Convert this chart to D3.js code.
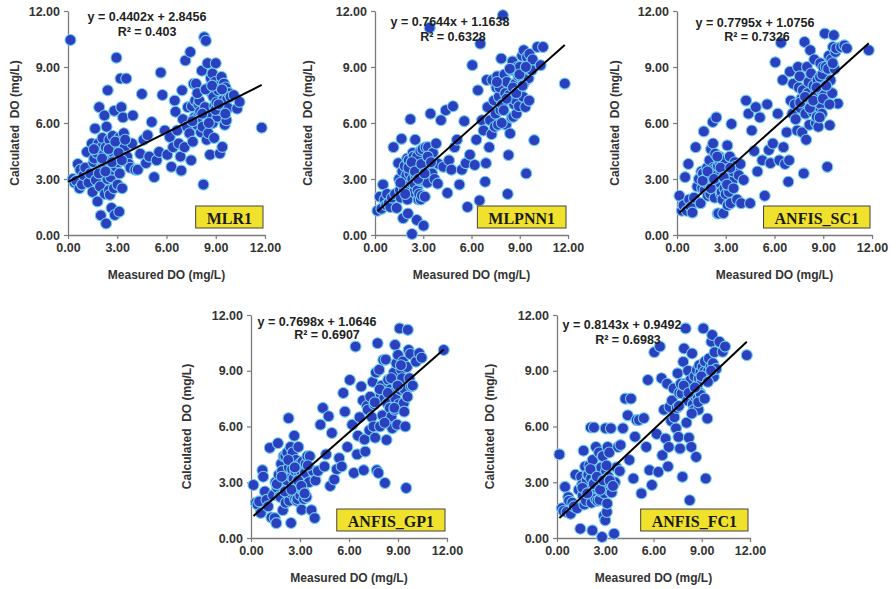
<!DOCTYPE html>
<html>
<head>
<meta charset="utf-8">
<script src="https://cdn.jsdelivr.net/npm/d3@7"></script>
<style>
  body { margin: 0; background: #fff; }
  svg text { font-family: "Liberation Sans", Arial, sans-serif; }
</style>
</head>
<body>
<div id="chart"></div>
<script>
// measured DO, shared by all five models (mg/L)
var measured = [
  0.15, 0.30, 0.40, 0.50, 0.60, 0.70, 0.75, 0.85, 0.95, 1.05,
  1.15, 1.25, 1.35, 1.45, 1.50, 1.55, 1.60, 1.65, 1.70, 1.75,
  1.80, 1.85, 1.90, 1.95, 2.00, 2.02, 2.05, 2.10, 2.12, 2.15,
  2.20, 2.22, 2.25, 2.30, 2.32, 2.35, 2.40, 2.42, 2.45, 2.50,
  2.52, 2.55, 2.60, 2.62, 2.65, 2.70, 2.72, 2.75, 2.80, 2.82,
  2.85, 2.90, 2.92, 2.95, 3.00, 3.02, 3.05, 3.10, 3.12, 3.15,
  3.20, 3.25, 3.30, 3.35, 3.40, 3.45, 3.55, 3.60, 3.70, 3.80,
  3.90, 3.95, 4.10, 4.25, 4.40, 4.50, 4.60, 4.75, 4.85, 4.95,
  5.10, 5.25, 5.40, 5.55, 5.65, 5.75, 5.90, 6.05, 6.20, 6.30,
  6.40, 6.50, 6.55, 6.65, 6.75, 6.85, 6.90, 6.95, 7.00, 7.10,
  7.15, 7.25, 7.30, 7.40, 7.45, 7.50, 7.55, 7.60, 7.65, 7.70,
  7.75, 7.80, 7.85, 7.90, 7.95, 8.00, 8.05, 8.10, 8.15, 8.20,
  8.25, 8.30, 8.35, 8.40, 8.45, 8.50, 8.55, 8.60, 8.65, 8.70,
  8.72, 8.75, 8.80, 8.82, 8.85, 8.90, 8.92, 8.95, 9.00, 9.05,
  9.10, 9.15, 9.20, 9.25, 9.30, 9.35, 9.40, 9.45, 9.50, 9.55,
  9.60, 9.65, 9.70, 9.75, 9.80, 9.90, 10.10, 10.30, 10.45, 11.80,
  1.58, 1.88, 2.08, 2.28, 2.48, 2.68, 2.88, 3.08, 3.28, 3.48,
  7.58, 7.88, 8.18, 8.38, 8.58, 8.78, 8.98, 9.18, 9.38, 9.58
];

// calculated DO per model, same order as measured
var mlr1 = [
  10.45, 3.0, 2.8, 2.9, 3.8, 2.5, 3.5, 2.7, 3.2, 3.6,
  4.45, 2.8, 3.3, 4.9, 2.3, 3.9, 4.1, 5.7, 2.95, 4.4,
  1.8, 4.9, 6.85, 2.6, 1.05, 3.6, 4.7, 5.2, 3.65, 4.3,
  3.9, 6.4, 2.2, 4.7, 0.62, 5.8, 3.0, 7.75, 4.0, 2.4,
  5.1, 2.15, 3.1, 4.5, 1.45, 3.5, 5.3, 4.4, 2.5, 6.65,
  1.07, 4.0, 3.65, 9.5, 4.7, 2.7, 3.9, 5.2, 1.25, 3.3,
  8.38, 6.85, 2.5, 6.3, 5.45, 4.7, 8.38, 4.2, 3.8, 3.6,
  4.9, 6.4, 3.5, 3.5, 4.35, 7.55, 5.1, 3.85, 5.35, 4.2,
  6.05, 3.1, 4.0, 4.45, 8.7, 7.5, 5.6, 4.3, 5.25, 3.65,
  4.7, 7.2, 6.6, 5.6, 4.9, 4.2, 3.45, 7.75, 6.2, 4.7,
  9.35, 5.8, 6.85, 5.45, 9.8, 4.0, 6.9, 5.0, 8.1, 6.3,
  7.2, 8.1, 5.9, 6.3, 7.0, 7.2, 6.6, 5.5, 8.8, 5.8,
  2.7, 10.6, 6.85, 10.4, 5.1, 9.2, 5.45, 7.9, 4.3, 8.4,
  6.33, 7.6, 8.65, 6.0, 7.4, 5.2, 6.9, 8.2, 9.2, 7.1,
  6.33, 7.75, 8.0, 4.37, 6.68, 8.47, 4.72, 7.22, 8.11, 5.9,
  7.9, 6.15, 7.3, 6.8, 7.6, 7.4, 7.49, 6.77, 7.13, 5.75,
  4.6, 3.3, 4.1, 3.4, 4.6, 3.9, 5.0, 4.4, 4.0, 5.1,
  6.1, 7.6, 6.5, 7.8, 6.0, 8.0, 6.7, 7.0, 7.8, 6.5
];
var mlpnn1 = [
  1.3, 2.05, 1.4, 2.7, 1.9, 1.6, 2.2, 1.7, 1.5, 2.0,
  4.7, 2.2, 1.45, 3.85, 3.0, 2.4, 2.0, 5.15, 3.4, 0.9,
  2.4, 3.7, 2.9, 3.2, 4.1, 1.9, 1.15, 4.0, 2.6, 3.3,
  6.2, 3.6, 2.8, 0.05, 3.0, 4.4, 4.2, 2.3, 2.75, 5.1,
  3.2, 3.9, 0.8, 4.2, 2.4, 1.9, 3.5, 2.2, 2.9, 4.5,
  1.9, 3.65, 2.1, 4.6, 2.9, 0.5, 3.4, 2.05, 2.85, 4.7,
  3.0, 2.8, 4.7, 3.6, 11.1, 6.5, 3.3, 4.4, 3.0, 4.9,
  2.75, 3.8, 6.15, 3.65, 6.68, 2.25, 4.0, 3.5, 6.9, 4.7,
  5.1, 2.7, 3.5, 6.1, 3.85, 1.5, 4.3, 9.1, 3.75, 5.1,
  7.75, 1.85, 10.25, 6.15, 5.6, 2.85, 3.85, 8.3, 6.85, 4.7,
  6.15, 5.4, 8.3, 7.2, 5.8, 6.5, 7.9, 8.5, 5.9, 7.4,
  7.9, 6.7, 9.45, 7.0, 11.77, 6.68, 8.6, 7.6, 5.9, 8.2,
  2.2, 4.28, 7.5, 5.44, 8.83, 6.3, 9.3, 6.33, 7.0, 8.1,
  8.1, 7.22, 6.5, 8.9, 9.0, 7.7, 8.5, 6.9, 9.0, 7.9,
  8.47, 9.6, 7.4, 9.9, 8.2, 6.86, 3.3, 9.54, 8.83, 8.4,
  9.7, 8.83, 9.2, 8.83, 9.4, 5.08, 10.07, 9.09, 10.07, 8.11,
  2.8, 2.2, 3.6, 3.9, 3.4, 3.0, 3.8, 3.3, 4.2, 3.9,
  8.2, 6.0, 7.3, 8.9, 7.9, 7.6, 8.6, 8.0, 9.0, 7.2
];
var anfisSc1 = [
  2.1, 1.3, 1.6, 3.1, 1.3, 3.8, 1.9, 1.5, 1.2, 2.0,
  4.7, 2.6, 3.0, 1.7, 3.4, 2.5, 3.3, 5.55, 2.4, 3.0,
  2.8, 3.6, 2.1, 2.85, 4.0, 3.3, 2.2, 4.6, 3.1, 2.6,
  6.05, 4.9, 3.6, 3.5, 2.0, 4.35, 2.6, 6.3, 3.2, 1.15,
  3.7, 1.15, 4.2, 2.8, 3.9, 2.2, 3.3, 2.3, 1.9, 4.0,
  1.16, 3.0, 2.5, 4.0, 2.2, 3.5, 2.8, 4.8, 1.6, 3.3,
  2.3, 4.2, 1.7, 5.95, 2.9, 3.4, 3.9, 3.7, 1.9, 3.2,
  3.8, 1.7, 2.95, 7.2, 6.5, 1.7, 5.6, 4.5, 6.85, 3.4,
  6.3, 4.0, 2.1, 7.0, 4.55, 3.85, 4.9, 9.25, 6.5, 4.0,
  10.3, 8.3, 4.7, 3.8, 5.5, 2.85, 4.0, 8.75, 7.2, 6.5,
  8.1, 7.0, 6.2, 5.6, 9.0, 7.9, 8.5, 6.8, 7.3, 5.5,
  7.76, 3.3, 10.34, 6.5, 5.1, 9.0, 7.6, 8.2, 5.9, 9.9,
  8.65, 7.2, 6.6, 8.0, 9.4, 7.5, 6.0, 6.33, 8.3, 5.8,
  7.93, 6.86, 8.47, 9.2, 7.0, 7.7, 6.5, 8.6, 9.0, 7.5,
  10.79, 9.0, 8.0, 3.65, 8.9, 9.6, 5.88, 8.29, 9.4, 7.6,
  10.07, 10.7, 8.9, 9.8, 10.0, 7.04, 10.07, 10.16, 10.0, 9.9,
  2.9, 3.4, 2.5, 3.0, 4.2, 3.6, 3.1, 2.7, 3.6, 2.5,
  7.1, 7.4, 6.8, 7.2, 7.9, 6.3, 7.3, 8.0, 7.0, 9.2
];
var anfisGp1 = [
  2.85, 1.9, 1.8, 1.97, 1.35, 3.65, 3.3, 2.5, 2.05, 1.7,
  4.85, 1.1, 2.3, 1.07, 3.0, 0.8, 2.7, 5.1, 3.4, 2.25,
  2.2, 4.0, 3.6, 1.5, 4.4, 2.9, 3.1, 4.4, 1.9, 2.6,
  3.1, 4.6, 2.4, 6.45, 3.8, 2.0, 2.45, 4.9, 0.81, 3.3,
  3.7, 4.6, 3.2, 2.8, 5.5, 2.1, 3.6, 4.2, 2.0, 2.6,
  2.1, 4.9, 3.0, 3.5, 4.0, 2.3, 3.6, 1.52, 2.6, 4.1,
  2.6, 2.1, 3.5, 4.0, 2.2, 4.4, 3.0, 4.4, 1.5, 3.6,
  1.07, 3.1, 3.6, 6.1, 7.0, 3.85, 4.5, 6.55, 2.8, 5.65,
  3.15, 3.7, 4.3, 3.85, 7.8, 6.8, 4.9, 8.5, 6.1, 3.5,
  10.3, 4.5, 5.5, 6.5, 8.15, 7.4, 3.65, 5.3, 4.65, 7.1,
  6.9, 5.8, 7.6, 6.5, 8.4, 6.0, 7.2, 5.4, 8.9, 3.65,
  10.48, 3.5, 9.05, 6.0, 7.7, 8.2, 6.6, 9.58, 7.5, 2.96,
  9.6, 5.28, 7.25, 8.51, 6.3, 7.0, 8.0, 6.54, 5.9, 7.8,
  7.8, 8.9, 6.9, 10.39, 7.5, 9.4, 8.3, 6.1, 9.85, 7.2,
  11.28, 7.97, 9.05, 8.6, 9.5, 7.25, 8.0, 6.0, 2.69, 9.2,
  11.2, 10.12, 8.6, 9.9, 8.15, 8.2, 9.49, 9.94, 9.7, 10.12,
  2.9, 3.3, 2.5, 4.2, 2.6, 3.8, 3.1, 2.8, 2.4, 3.9,
  7.3, 8.0, 6.2, 7.8, 8.6, 7.0, 8.2, 9.3, 6.8, 7.6
];
var anfisFc1 = [
  4.5, 1.6, 1.45, 2.75, 1.4, 2.2, 2.0, 1.3, 1.9, 1.7,
  3.4, 1.6, 2.6, 0.5, 3.3, 2.85, 2.3, 4.7, 1.8, 3.85,
  2.0, 3.1, 3.4, 3.4, 2.6, 3.9, 2.4, 5.95, 3.2, 1.9,
  0.41, 4.2, 2.4, 5.95, 3.0, 3.6, 2.1, 4.9, 2.7, 3.65,
  2.0, 3.0, 2.9, 4.6, 2.05, 3.3, 2.5, 3.8, 0.05, 4.4,
  4.4, 3.0, 1.2, 2.4, 0.95, 5.9, 3.6, 1.4, 1.85, 4.9,
  3.3, 4.6, 2.5, 5.9, 2.45, 3.0, 0.23, 3.0, 3.8, 4.9,
  3.6, 5.0, 5.9, 7.5, 6.6, 4.2, 7.5, 3.2, 5.45, 6.35,
  6.35, 2.4, 6.45, 4.9, 8.5, 3.65, 2.85, 10.0, 5.6, 3.55,
  10.3, 8.6, 4.45, 6.9, 5.35, 8.3, 3.85, 4.9, 7.05, 6.3,
  7.4, 8.05, 6.5, 5.9, 7.0, 8.86, 5.44, 7.8, 4.81, 8.3,
  7.78, 3.29, 9.48, 10.2, 8.3, 11.28, 6.2, 7.4, 9.0, 5.4,
  2.03, 8.5, 4.9, 9.93, 7.2, 6.88, 8.7, 7.6, 4.36, 9.04,
  8.14, 7.6, 6.9, 8.6, 9.3, 7.8, 8.9, 7.7, 8.5, 9.2,
  11.28, 8.95, 9.5, 3.2, 8.6, 6.43, 9.0, 9.66, 8.8, 9.2,
  10.56, 10.92, 9.4, 8.68, 10.0, 9.1, 10.56, 10.02, 10.3, 9.84,
  2.7, 2.4, 3.7, 2.9, 3.3, 2.6, 3.1, 3.9, 3.1, 2.8,
  7.1, 8.2, 7.8, 6.7, 8.1, 7.3, 8.7, 7.5, 8.4, 9.0
];

var modelNames = ["MLR1", "MLPNN1", "ANFIS_SC1", "ANFIS_GP1", "ANFIS_FC1"];
var modelValues = [mlr1, mlpnn1, anfisSc1, anfisGp1, anfisFc1];
// trend line coefficients as printed on the chart
var slopes = [0.4402, 0.7644, 0.7795, 0.7698, 0.8143];
var intercepts = [2.8456, 1.1638, 1.0756, 1.0646, 0.9492];
var equations = ["y = 0.4402x + 2.8456", "y = 0.7644x + 1.1638", "y = 0.7795x + 1.0756",
                 "y = 0.7698x + 1.0646", "y = 0.8143x + 0.9492"];
var rSquared = ["R² = 0.403", "R² = 0.6328", "R² = 0.7326", "R² = 0.6907", "R² = 0.6983"];
var tickValues = [0, 3, 6, 9, 12];

// panel layout in page pixels (plot frame), and text offsets
var layout = [
  { x0: 68,  x1: 265, top: 11,  bottom: 235, eqX: 147, eqY: 17,  r2X: 147, r2Y: 32,  titleX: 15 },
  { x0: 375, x1: 568, top: 11,  bottom: 235, eqX: 450, eqY: 22,  r2X: 453, r2Y: 37,  titleX: 308 },
  { x0: 677, x1: 872, top: 11,  bottom: 235, eqX: 755, eqY: 23,  r2X: 757, r2Y: 37,  titleX: 615 },
  { x0: 251, x1: 447, top: 315, bottom: 538, eqX: 317, eqY: 322, r2X: 327, r2Y: 335, titleX: 187 },
  { x0: 557, x1: 750, top: 315, bottom: 538, eqX: 622, eqY: 325, r2X: 628, r2Y: 340, titleX: 490 }
];

var width = 896, height = 589;
var svg = d3.select("#chart").append("svg")
    .attr("width", width)
    .attr("height", height);

var fmt = d3.format(".2f");
var xExtent = d3.extent(measured);

modelNames.forEach(function(name, i) {
    var L = layout[i];
    var x = d3.scaleLinear().domain([0, 12]).range([L.x0, L.x1]);
    var y = d3.scaleLinear().domain([0, 12]).range([L.bottom, L.top]);
    var g = svg.append("g").attr("class", "panel");

    // axes
    var yAxis = g.append("g")
        .attr("transform", "translate(" + L.x0 + ",0)")
        .call(d3.axisLeft(y).tickValues(tickValues).tickFormat(fmt).tickSizeInner(4).tickSizeOuter(0));
    var xAxis = g.append("g")
        .attr("transform", "translate(0," + L.bottom + ")")
        .call(d3.axisBottom(x).tickValues(tickValues).tickFormat(fmt).tickSizeInner(4).tickSizeOuter(0));
    [xAxis, yAxis].forEach(function(a) {
        a.select(".domain").attr("stroke", "#7a7a7a").attr("stroke-width", 1.3);
        a.selectAll(".tick line").attr("stroke", "#7a7a7a").attr("stroke-width", 1.2);
        a.selectAll(".tick text")
            .attr("fill", "#333")
            .style("font-size", "12.5px")
            .style("font-weight", "bold")
            .style("font-family", "'Liberation Sans', Arial, sans-serif");
    });
    yAxis.selectAll(".tick text").attr("x", -8);
    xAxis.selectAll(".tick text").attr("y", 8);

    // points
    var pts = d3.zip(measured, modelValues[i]);
    g.append("g").selectAll("circle")
        .data(pts)
        .join("circle")
        .attr("cx", function(d) { return x(d[0]); })
        .attr("cy", function(d) { return y(d[1]); })
        .attr("r", 5.5)
        .attr("fill", "#2c3fbe")
        .attr("stroke", "#6fcdef")
        .attr("stroke-width", 1.1);

    // trend line
    var line = d3.line()
        .x(function(d) { return x(d); })
        .y(function(d) { return y(slopes[i] * d + intercepts[i]); });
    g.append("path")
        .datum([i === 0 ? 0 : xExtent[0], xExtent[1]])
        .attr("d", line)
        .attr("fill", "none")
        .attr("stroke", "#000")
        .attr("stroke-width", 2);

    // equation
    g.append("text")
        .attr("x", L.eqX).attr("y", L.eqY)
        .attr("text-anchor", "middle").attr("dominant-baseline", "central")
        .attr("fill", "#222").style("font-size", "12.5px").style("font-weight", "bold")
        .text(equations[i]);
    g.append("text")
        .attr("x", L.r2X).attr("y", L.r2Y)
        .attr("text-anchor", "middle").attr("dominant-baseline", "central")
        .attr("fill", "#222").style("font-size", "12.5px").style("font-weight", "bold")
        .text(rSquared[i]);

    // axis titles
    g.append("text")
        .attr("transform", "translate(" + L.titleX + "," + ((L.top + L.bottom) / 2) + ") rotate(-90)")
        .attr("text-anchor", "middle").attr("dominant-baseline", "central")
        .attr("fill", "#333").style("font-size", "12px").style("font-weight", "bold")
        .style("white-space", "pre")
        .text("Calculated  DO (mg/L)");
    g.append("text")
        .attr("x", (L.x0 + L.x1) / 2).attr("y", L.bottom + 40)
        .attr("text-anchor", "middle").attr("dominant-baseline", "central")
        .attr("fill", "#333").style("font-size", "12px").style("font-weight", "bold")
        .text("Measured DO (mg/L)");

    // model label box
    var lab = g.append("g");
    var t = lab.append("text")
        .attr("text-anchor", "middle").attr("dominant-baseline", "central")
        .attr("fill", "#1a1a1a")
        .style("font-family", "'Liberation Serif', 'Times New Roman', serif")
        .style("font-size", "16px").style("font-weight", "bold")
        .text(name);
    var tw = t.node().getComputedTextLength();
    var bw = tw + 22, bh = 22;
    var bx = L.x1 - 2 - bw, by = L.bottom - 7 - bh;
    lab.insert("rect", "text")
        .attr("x", bx).attr("y", by).attr("width", bw).attr("height", bh)
        .attr("fill", "#f0e22c").attr("stroke", "#444").attr("stroke-width", 1);
    t.attr("x", bx + bw / 2).attr("y", by + bh / 2 + 1);
});
</script>
</body>
</html>
